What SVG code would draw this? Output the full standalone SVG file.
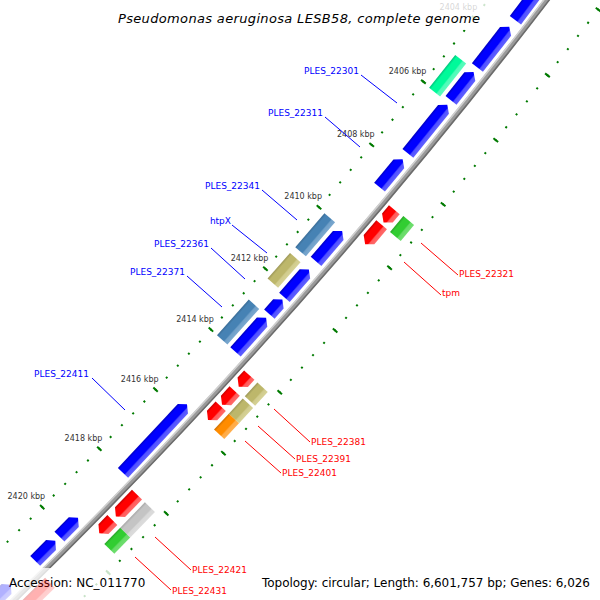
<svg xmlns="http://www.w3.org/2000/svg" width="600" height="600" viewBox="0 0 600 600">
<defs>
<linearGradient id="gBlue"><stop offset="0" stop-color="#0000c0"/><stop offset="0.18" stop-color="#0000ff"/><stop offset="0.62" stop-color="#0000ff"/><stop offset="0.72" stop-color="#5050ff"/><stop offset="1" stop-color="#6060ff"/></linearGradient>
<linearGradient id="gRed"><stop offset="0" stop-color="#c80000"/><stop offset="0.18" stop-color="#ff0000"/><stop offset="0.62" stop-color="#ff0000"/><stop offset="0.72" stop-color="#ff5a5a"/><stop offset="1" stop-color="#ff6a6a"/></linearGradient>
<linearGradient id="gSteel"><stop offset="0" stop-color="#3a6c96"/><stop offset="0.18" stop-color="#4682b4"/><stop offset="0.62" stop-color="#4682b4"/><stop offset="0.72" stop-color="#6f9fc8"/><stop offset="1" stop-color="#7aa8cf"/></linearGradient>
<linearGradient id="gKhaki"><stop offset="0" stop-color="#9d9858"/><stop offset="0.18" stop-color="#bdb76b"/><stop offset="0.62" stop-color="#bdb76b"/><stop offset="0.72" stop-color="#d0cb8c"/><stop offset="1" stop-color="#d6d296"/></linearGradient>
<linearGradient id="gSpring"><stop offset="0" stop-color="#00c27a"/><stop offset="0.18" stop-color="#00fa9a"/><stop offset="0.62" stop-color="#00fa9a"/><stop offset="0.72" stop-color="#4dfbb8"/><stop offset="1" stop-color="#5cfbbd"/></linearGradient>
<linearGradient id="gGreen"><stop offset="0" stop-color="#28a428"/><stop offset="0.18" stop-color="#32cd32"/><stop offset="0.62" stop-color="#32cd32"/><stop offset="0.72" stop-color="#66db66"/><stop offset="1" stop-color="#70de70"/></linearGradient>
<linearGradient id="gOrange"><stop offset="0" stop-color="#d07000"/><stop offset="0.18" stop-color="#ff8c00"/><stop offset="0.62" stop-color="#ff8c00"/><stop offset="0.72" stop-color="#ffaa44"/><stop offset="1" stop-color="#ffb050"/></linearGradient>
<linearGradient id="gGray"><stop offset="0" stop-color="#a8a8a8"/><stop offset="0.18" stop-color="#c4c4c4"/><stop offset="0.62" stop-color="#c4c4c4"/><stop offset="0.72" stop-color="#d8d8d8"/><stop offset="1" stop-color="#dcdcdc"/></linearGradient>
</defs>
<style>
.blue{fill:url(#gBlue)} .red{fill:url(#gRed)} .steel{fill:url(#gSteel)} .khaki{fill:url(#gKhaki)}
.spring{fill:url(#gSpring)} .green{fill:url(#gGreen)} .orange{fill:url(#gOrange)} .gray{fill:url(#gGray)}
.lbl{font-family:"DejaVu Sans",Verdana,sans-serif;font-size:9px}
.rev{fill:#0000ff} .fwd{fill:#ff0000}
.klbl{font-family:"DejaVu Sans",Verdana,sans-serif;font-size:8px;fill:#333333;text-anchor:end}
.legend{font-family:"DejaVu Sans",Verdana,sans-serif;font-size:12px;fill:#000000}
.title{font-family:"DejaVu Sans",Verdana,sans-serif;font-size:13px;font-style:italic;fill:#000000}
.minor{fill:none;stroke:#007a00;stroke-width:2}
.major{stroke:#007a00;stroke-width:2}
.cb{stroke:#0000ff;stroke-width:1}
.cr{stroke:#ff0000;stroke-width:1}
.faded{opacity:0.3}
</style>
<rect width="600" height="600" fill="#ffffff"/>

<!-- backbone -->
<g id="backbone" transform="translate(-3908 -3417) rotate(36.5)" fill="none">
<path d="M5614 0 A5614 5614 0 0 1 5523.6 1003.8" stroke="#9a9a9a" stroke-width="5"/>
<path d="M5612 0 A5612 5612 0 0 1 5521.6 1003.4" stroke="#cfcfcf" stroke-width="1.6"/>
<path d="M5616.3 0 A5616.3 5616.3 0 0 1 5525.8 1004.2" stroke="#6c6c6c" stroke-width="1.6"/>
</g>

<!-- tick rulers -->
<g id="ticks">
<g transform="translate(-3908 -3417) rotate(36.746)">
<path class="minor" d="M5568 0 A5568 5568 0 0 1 5487.5 943.4" stroke-dasharray="2 14.326" stroke-dashoffset="1"/>
<path class="minor" d="M5661 0 A5661 5661 0 0 1 5579.1 959.1" stroke-dasharray="2 14.599" stroke-dashoffset="1"/>
</g>
<g transform="translate(-3908 -3417)">
<line class="major" transform="rotate(37.25)" x1="5658" x2="5664"/>
<line class="major" transform="rotate(38.09)" x1="5565" x2="5571"/><line class="major" transform="rotate(38.09)" x1="5658" x2="5664"/>
<line class="major" transform="rotate(38.93)" x1="5565" x2="5571"/><line class="major" transform="rotate(38.93)" x1="5658" x2="5664"/>
<line class="major" transform="rotate(39.77)" x1="5565" x2="5571"/><line class="major" transform="rotate(39.77)" x1="5658" x2="5664"/>
<line class="major" transform="rotate(40.61)" x1="5565" x2="5571"/><line class="major" transform="rotate(40.61)" x1="5658" x2="5664"/>
<line class="major" transform="rotate(41.45)" x1="5565" x2="5571"/><line class="major" transform="rotate(41.45)" x1="5658" x2="5664"/>
<line class="major" transform="rotate(42.29)" x1="5565" x2="5571"/><line class="major" transform="rotate(42.29)" x1="5658" x2="5664"/>
<line class="major" transform="rotate(43.13)" x1="5565" x2="5571"/><line class="major" transform="rotate(43.13)" x1="5658" x2="5664"/>
<line class="major" transform="rotate(43.97)" x1="5565" x2="5571"/><line class="major" transform="rotate(43.97)" x1="5658" x2="5664"/>
<line class="major" transform="rotate(44.81)" x1="5565" x2="5571"/><line class="major" transform="rotate(44.81)" x1="5658" x2="5664"/>
<text class="klbl" transform="rotate(38.09) translate(5568 0) rotate(-38.09)" x="3" y="-8">2404 kbp</text>
<text class="klbl" transform="rotate(38.93) translate(5568 0) rotate(-38.93)" x="3" y="-8">2406 kbp</text>
<text class="klbl" transform="rotate(39.77) translate(5568 0) rotate(-39.77)" x="3" y="-8">2408 kbp</text>
<text class="klbl" transform="rotate(40.61) translate(5568 0) rotate(-40.61)" x="3" y="-8">2410 kbp</text>
<text class="klbl" transform="rotate(41.45) translate(5568 0) rotate(-41.45)" x="3" y="-8">2412 kbp</text>
<text class="klbl" transform="rotate(42.29) translate(5568 0) rotate(-42.29)" x="3" y="-8">2414 kbp</text>
<text class="klbl" transform="rotate(43.13) translate(5568 0) rotate(-43.13)" x="3" y="-8">2416 kbp</text>
<text class="klbl" transform="rotate(43.97) translate(5568 0) rotate(-43.97)" x="3" y="-8">2418 kbp</text>
<text class="klbl" transform="rotate(44.81) translate(5568 0) rotate(-44.81)" x="3" y="-8">2420 kbp</text>
</g>
</g>

<!-- title and legend panels -->
<g id="title">
<rect x="110" y="0" width="376" height="30" fill="#ffffff" opacity="0.8"/>
<text class="title" x="299" y="23" text-anchor="middle" textLength="362">Pseudomonas aeruginosa LESB58, complete genome</text>
</g>
<g id="legend">
<rect x="0" y="568" width="600" height="32" fill="#ffffff" opacity="0.78"/>
<text class="legend" x="9" y="587">Accession: NC_011770</text>
<text class="legend" x="262" y="587" textLength="328">Topology: circular; Length: 6,601,757 bp; Genes: 6,026</text>
</g>

<!-- label connectors -->
<g id="connectors">
<line class="cb" x1="361" y1="75" x2="397" y2="103"/>
<line class="cb" x1="325" y1="117" x2="360" y2="147"/>
<line class="cb" x1="262" y1="190" x2="297" y2="220"/>
<line class="cb" x1="232" y1="225" x2="267" y2="253"/>
<line class="cb" x1="211" y1="248" x2="245" y2="279"/>
<line class="cb" x1="187" y1="276" x2="222" y2="307"/>
<line class="cb" x1="92" y1="378" x2="125" y2="410"/>
<line class="cr" x1="458" y1="275" x2="421" y2="243"/>
<line class="cr" x1="441" y1="295" x2="404" y2="262"/>
<line class="cr" x1="310" y1="442" x2="274" y2="409"/>
<line class="cr" x1="295" y1="459" x2="258" y2="426"/>
<line class="cr" x1="281" y1="473" x2="245" y2="441"/>
<line class="cr" x1="191" y1="570" x2="155" y2="537"/>
<line class="cr" x1="171" y1="590" x2="135" y2="557"/>
</g>

<!-- reverse strand genes (inner) -->
<g id="gene_b1"><path class="blue" transform="translate(-3908 -3417) rotate(36.8)" d="M5594 6 L5601 0 L5608 6 L5608 102.6 L5594 102.6 Z"/></g>
<g id="gene_b2"><path class="blue" transform="translate(-3908 -3417) rotate(37.94)" d="M5594 6 L5601 0 L5608 6 L5608 51.8 L5594 51.8 Z"/></g>
<g id="gene_b3"><path class="blue" transform="translate(-3908 -3417) rotate(38.53)" d="M5594 6 L5601 0 L5608 6 L5608 36.2 L5594 36.2 Z"/></g>
<g id="PLES_22301"><path class="blue" transform="translate(-3908 -3417) rotate(38.96)" d="M5594 6 L5601 0 L5608 6 L5608 62.6 L5594 62.6 Z"/><text class="lbl rev" x="359" y="74" text-anchor="end">PLES_22301</text></g>
<g id="PLES_22311"><path class="blue" transform="translate(-3908 -3417) rotate(39.68)" d="M5594 6 L5601 0 L5608 6 L5608 36.2 L5594 36.2 Z"/><text class="lbl rev" x="323" y="116" text-anchor="end">PLES_22311</text></g>
<g id="PLES_22341"><path class="blue" transform="translate(-3908 -3417) rotate(40.64)" d="M5594 6 L5601 0 L5608 6 L5608 40.1 L5594 40.1 Z"/><text class="lbl rev" x="260" y="189" text-anchor="end">PLES_22341</text></g>
<g id="htpX"><path class="blue" transform="translate(-3908 -3417) rotate(41.16)" d="M5594 6 L5601 0 L5608 6 L5608 37.1 L5594 37.1 Z"/><text class="lbl rev" x="231" y="224" text-anchor="end">htpX</text></g>
<g id="PLES_22361"><path class="blue" transform="translate(-3908 -3417) rotate(41.57)" d="M5594 6 L5601 0 L5608 6 L5608 19.6 L5594 19.6 Z"/><text class="lbl rev" x="209" y="247" text-anchor="end">PLES_22361</text></g>
<g id="PLES_22371"><path class="blue" transform="translate(-3908 -3417) rotate(41.82)" d="M5594 6 L5601 0 L5608 6 L5608 45.9 L5594 45.9 Z"/><text class="lbl rev" x="185" y="275" text-anchor="end">PLES_22371</text></g>
<g id="PLES_22411"><path class="blue" transform="translate(-3908 -3417) rotate(43.02)" d="M5594 6 L5601 0 L5608 6 L5608 93.8 L5594 93.8 Z"/><text class="lbl rev" x="89" y="377" text-anchor="end">PLES_22411</text></g>
<g id="gene_b11"><path class="blue" transform="translate(-3908 -3417) rotate(44.63)" d="M5594 6 L5601 0 L5608 6 L5608 26.4 L5594 26.4 Z"/></g>
<g id="gene_b12"><path class="blue" transform="translate(-3908 -3417) rotate(44.96)" d="M5594 6 L5601 0 L5608 6 L5608 28.4 L5594 28.4 Z"/></g>
<g id="gene_b13" class="faded"><path class="blue" transform="translate(-3908 -3417) rotate(45.6)" d="M5594 6 L5601 0 L5608 6 L5608 97.8 L5594 97.8 Z"/></g>

<!-- inner second row -->
<g id="gene_s1"><path class="spring" transform="translate(-3908 -3417) rotate(38.51)" d="M5576 0 H5590 V41.9 H5576 Z"/></g>
<g id="gene_s2"><path class="steel" transform="translate(-3908 -3417) rotate(40.62)" d="M5576 0 H5590 V44.8 H5576 Z"/></g>
<g id="gene_s3"><path class="khaki" transform="translate(-3908 -3417) rotate(41.16)" d="M5576 0 H5590 V34.1 H5576 Z"/></g>
<g id="gene_s4"><path class="steel" transform="translate(-3908 -3417) rotate(41.8)" d="M5576 0 H5590 V47.7 H5576 Z"/></g>

<!-- forward strand genes (outer) -->
<g id="PLES_22321"><path class="red" transform="translate(-3908 -3417) rotate(40.13)" d="M5620 0 L5634 0 L5634 10.7 L5627 16.7 L5620 10.7 Z"/><text class="lbl fwd" x="459" y="277">PLES_22321</text></g>
<g id="tpm"><path class="red" transform="translate(-3908 -3417) rotate(40.33)" d="M5620 0 L5634 0 L5634 19.5 L5627 25.5 L5620 19.5 Z"/><text class="lbl fwd" x="442" y="296">tpm</text></g>
<g id="PLES_22381"><path class="red" transform="translate(-3908 -3417) rotate(42.37)" d="M5620 0 L5634 0 L5634 9.7 L5627 15.7 L5620 9.7 Z"/><text class="lbl fwd" x="311" y="445">PLES_22381</text></g>
<g id="PLES_22391"><path class="red" transform="translate(-3908 -3417) rotate(42.59)" d="M5620 0 L5634 0 L5634 12.7 L5627 18.7 L5620 12.7 Z"/><text class="lbl fwd" x="296" y="462">PLES_22391</text></g>
<g id="PLES_22401"><path class="red" transform="translate(-3908 -3417) rotate(42.8)" d="M5620 0 L5634 0 L5634 12.7 L5627 18.7 L5620 12.7 Z"/><text class="lbl fwd" x="282" y="476">PLES_22401</text></g>
<g id="PLES_22421"><path class="red" transform="translate(-3908 -3417) rotate(44.04)" d="M5620 0 L5634 0 L5634 24.4 L5627 30.4 L5620 24.4 Z"/><text class="lbl fwd" x="192" y="573">PLES_22421</text></g>
<g id="PLES_22431"><path class="red" transform="translate(-3908 -3417) rotate(44.4)" d="M5620 0 L5634 0 L5634 12.7 L5627 18.7 L5620 12.7 Z"/><text class="lbl fwd" x="172" y="594">PLES_22431</text></g>
<g id="gene_r8" class="faded"><path class="red" transform="translate(-3908 -3417) rotate(45.3)" d="M5620 0 L5634 0 L5634 82.4 L5627 88.4 L5620 82.4 Z"/></g>

<!-- outer second row -->
<g id="gene_g1"><path class="green" transform="translate(-3908 -3417) rotate(40.12)" d="M5638 0 H5652 V20.7 H5638 Z"/></g>
<g id="gene_k1"><path class="khaki" transform="translate(-3908 -3417) rotate(42.37)" d="M5638 0 H5652 V18.7 H5638 Z"/></g>
<g id="gene_k2"><path class="khaki" transform="translate(-3908 -3417) rotate(42.59)" d="M5638 0 H5652 V20.7 H5638 Z"/></g>
<g id="gene_o1"><path class="orange" transform="translate(-3908 -3417) rotate(42.8)" d="M5638 0 H5652 V21.7 H5638 Z"/></g>
<g id="gene_g2"><path class="gray" transform="translate(-3908 -3417) rotate(44.04)" d="M5638 0 H5652 V35.5 H5638 Z"/></g>
<g id="gene_g3"><path class="green" transform="translate(-3908 -3417) rotate(44.4)" d="M5638 0 H5652 V22.7 H5638 Z"/></g>
</svg>
